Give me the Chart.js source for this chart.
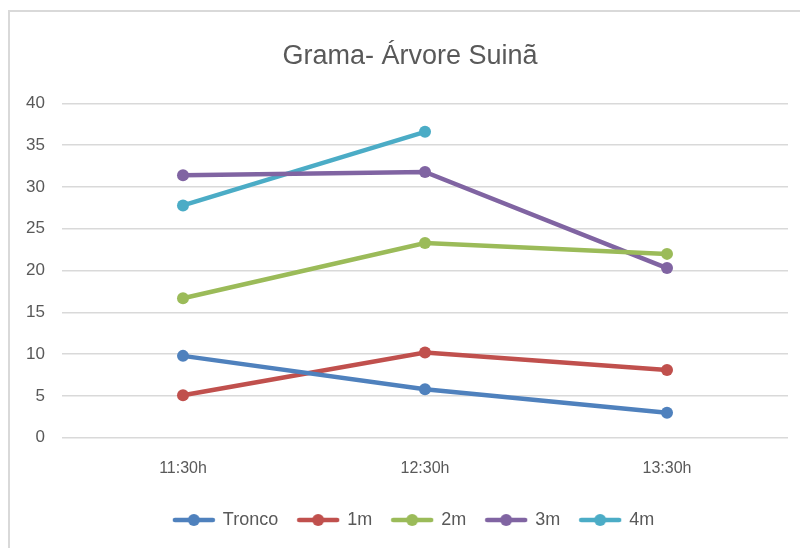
<!DOCTYPE html>
<html>
<head>
<meta charset="utf-8">
<script src="https://cdn.jsdelivr.net/npm/chart.js@4/dist/chart.umd.min.js"></script>
<style>
  html, body { margin: 0; padding: 0; background: #fff; }
  #wrap { position: relative; width: 800px; height: 548px; overflow: hidden; }
  #frame {
    position: absolute; left: 8px; top: 10px; width: 820px; height: 560px;
    border: 2px solid #d9d9d9; box-sizing: border-box;
  }
  #chart { position: absolute; left: 0; top: 0; }
</style>
</head>
<body>
<div id="wrap">
  <div id="frame"></div>
  <canvas id="chart" width="800" height="548"></canvas>
</div>
<script>
// Chart data
const categories = ['11:30h', '12:30h', '13:30h'];
const seriesNames = ['Tronco', '1m', '2m', '3m', '4m'];
const tronco = [9.8, 5.8, 3.0];
const m1 = [5.1, 10.2, 8.1];
const m2 = [16.7, 23.3, 22.0];
const m3 = [31.4, 31.8, 20.3];
const m4 = [27.8, 36.6, null];
const yTicks = [0, 5, 10, 15, 20, 25, 30, 35, 40];

const colors = ['#4f81bd', '#c0504d', '#9bbb59', '#8064a2', '#4bacc6'];
const values = [tronco, m1, m2, m3, m4];
const textColor = '#595959';
const fontFamily = '"Liberation Sans", Arial, sans-serif';

// legend marker: a short line with a dot in the middle
function legendMarker(color) {
  const c = document.createElement('canvas');
  c.width = 44;
  c.height = 14;
  const ctx = c.getContext('2d');
  ctx.strokeStyle = color;
  ctx.lineWidth = 4.5;
  ctx.lineCap = 'round';
  ctx.beginPath();
  ctx.moveTo(3, 7);
  ctx.lineTo(41, 7);
  ctx.stroke();
  ctx.fillStyle = color;
  ctx.beginPath();
  ctx.arc(22, 7, 6, 0, Math.PI * 2);
  ctx.fill();
  return c;
}

const datasets = seriesNames.map((name, i) => ({
  label: name,
  data: values[i],
  borderColor: colors[i],
  backgroundColor: colors[i],
  borderWidth: 4.5,
  pointRadius: 6,
  pointHoverRadius: 6,
  pointBorderWidth: 0,
  pointStyle: 'circle',
  tension: 0,
  spanGaps: false,
  legendMarker: legendMarker(colors[i]),
}));

// nudge title and legend to the right, the way the original sits in its frame
const shiftBlocks = {
  id: 'shiftBlocks',
  afterLayout(chart) {
    if (chart.legend) chart.legend.left += 40;
    if (chart.titleBlock) chart.titleBlock.left += 32;
  },
};

new Chart(document.getElementById('chart'), {
  type: 'line',
  data: { labels: categories, datasets: datasets },
  plugins: [shiftBlocks],
  options: {
    responsive: false,
    animation: false,
    layout: { padding: { left: 0, right: 12, top: 0, bottom: 9 } },
    plugins: {
      title: {
        display: true,
        text: 'Grama- Árvore Suinã',
        color: textColor,
        font: { family: fontFamily, size: 27, weight: 'normal' },
        padding: { top: 40, bottom: 31 },
      },
      legend: {
        position: 'bottom',
        labels: {
          color: textColor,
          font: { family: fontFamily, size: 18 },
          usePointStyle: true,
          pointStyleWidth: 40,
          padding: 20,
          generateLabels(chart) {
            return chart.data.datasets.map((ds, i) => ({
              text: ds.label,
              fontColor: textColor,
              pointStyle: ds.legendMarker,
              datasetIndex: i,
              hidden: false,
              lineWidth: 0,
            }));
          },
        },
      },
      tooltip: { enabled: false },
    },
    scales: {
      x: {
        offset: true,
        grid: { display: false },
        border: { display: false },
        ticks: {
          color: textColor,
          font: { family: fontFamily, size: 16 },
          padding: 13,
          maxRotation: 0,
        },
      },
      y: {
        min: 0,
        max: 40,
        afterBuildTicks(scale) {
          scale.ticks = yTicks.map(v => ({ value: v }));
        },
        afterFit(scale) {
          scale.width = 62;
        },
        grid: { color: '#d9d9d9', lineWidth: 1.5, drawTicks: false },
        border: { display: false },
        ticks: {
          color: textColor,
          font: { family: fontFamily, size: 17 },
          padding: 17,
        },
      },
    },
  },
});
</script>
</body>
</html>
